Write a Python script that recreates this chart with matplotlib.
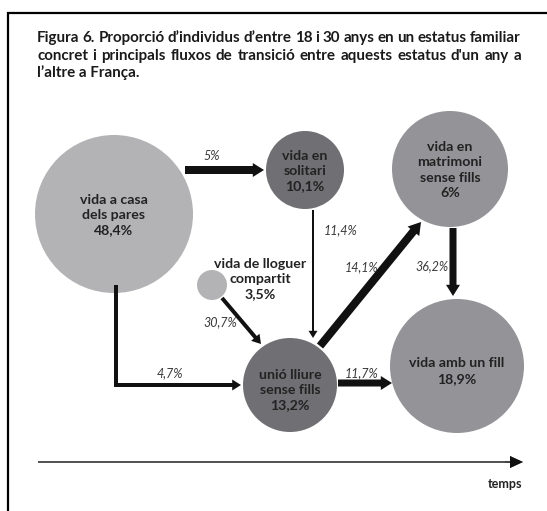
import matplotlib
matplotlib.use("Agg")
import matplotlib.pyplot as plt
from matplotlib.patches import Circle

plt.rcParams['font.family'] = ['Lato', 'DejaVu Sans']

# estatus familiars: etiqueta, percentatge
states = ["pares", "solitari", "matrimoni", "lloguer", "unio", "fill"]
labels = {
    "pares": "vida a casa\ndels pares",
    "solitari": "vida en\nsolitari",
    "matrimoni": "vida en\nmatrimoni\nsense fills",
    "lloguer": "vida de lloguer\ncompartit",
    "unio": "unió lliure\nsense fills",
    "fill": "vida amb un fill",
}
shares = {"pares": "48,4%", "solitari": "10,1%", "matrimoni": "6%",
          "lloguer": "3,5%", "unio": "13,2%", "fill": "18,9%"}

# fluxos: origen, desti, percentatge
flows = [
    ("pares", "solitari", "5%"),
    ("pares", "unio", "4,7%"),
    ("solitari", "unio", "11,4%"),
    ("lloguer", "unio", "30,7%"),
    ("unio", "matrimoni", "14,1%"),
    ("matrimoni", "fill", "36,2%"),
    ("unio", "fill", "11,7%"),
]

title_lines = [
    "Figura 6. Proporció d\u2019individus d\u2019entre 18 i 30 anys en un estatus familiar",
    "concret i principals fluxos de transició entre aquests estatus d'un any a",
    "l\u2019altre a França.",
]

# layout (pixels)
LIGHT, MID, DARK = "#b3b3b5", "#949498", "#707074"
node_pos = {"pares": (114, 214), "solitari": (305, 170), "matrimoni": (450, 169),
            "lloguer": (212, 285), "unio": (290, 385), "fill": (457, 366)}
node_r = {"pares": 79, "solitari": 39, "matrimoni": 58, "lloguer": 15,
          "unio": 47, "fill": 67}
node_col = {"pares": LIGHT, "solitari": DARK, "matrimoni": MID, "lloguer": LIGHT,
            "unio": DARK, "fill": MID}
text_pos = {"pares": (114, 215), "solitari": (305, 171), "matrimoni": (450, 170),
            "lloguer": (260, 279), "unio": (290, 390), "fill": (457, 371)}

# arrow paths: list of points, width px, head width, label pos
arrow_geo = {
    ("pares", "solitari"): ([(185, 170), (264, 170)], 8, 14, (212, 156)),
    ("pares", "unio"): ([(116, 287), (116, 385), (241, 385)], 4, 11, (170, 373)),
    ("solitari", "unio"): ([(313, 210), (313, 338)], 2, 9, (341, 230)),
    ("lloguer", "unio"): ([(222, 298), (261, 344)], 4, 11, (220, 322)),
    ("unio", "matrimoni"): ([(320, 346), (421, 222)], 8, 15, (362, 267)),
    ("matrimoni", "fill"): ([(453, 228), (453, 296)], 7, 14, (432, 266)),
    ("unio", "fill"): ([(338, 383), (392, 383)], 7, 14, (362, 373)),
}

fig = plt.figure(figsize=(5.47, 5.11), dpi=100)
ax = fig.add_axes([0, 0, 1, 1])
ax.set_xlim(0, 547)
ax.set_ylim(511, 0)
ax.axis("off")

# frame
ax.plot([8, 8, 547], [511, 13, 13], color="black", lw=1.6, solid_joinstyle="miter")

# justified title
renderer = fig.canvas.get_renderer()
x_left, x_right = 37, 521
for i, line in enumerate(title_lines):
    y = [42, 60, 77][i]
    kw = dict(fontsize=10.9, fontweight="bold", va="baseline", color="#1a1a1a")
    if i == len(title_lines) - 1:
        ax.text(x_left, y, line, ha="left", **kw)
        continue
    words = line.split(" ")
    arts = [ax.text(0, y, w, ha="left", **kw) for w in words]
    widths = [a.get_window_extent(renderer).width for a in arts]
    gap = (x_right - x_left - sum(widths)) / (len(words) - 1)
    x = x_left
    for a, w in zip(arts, widths):
        a.set_x(x)
        x += w + gap

for s in states:
    x, y = node_pos[s]
    ax.add_patch(Circle((x, y), node_r[s], color=node_col[s], lw=0, zorder=2))
    tx, ty = text_pos[s]
    ax.text(tx, ty, labels[s] + "\n" + shares[s], ha="center", va="center",
            fontsize=10.2, fontweight="bold", color="#222222",
            linespacing=1.32, zorder=4)

for src, dst, pct in flows:
    pts, w, hw, lp = arrow_geo[(src, dst)]
    for (x0, y0), (x1, y1) in zip(pts[:-2], pts[1:-1]):
        ax.plot([x0, x1], [y0, y1], color="#111111", lw=w * 0.72,
                solid_capstyle="projecting", zorder=3)
    (x0, y0), (x1, y1) = pts[-2], pts[-1]
    ax.arrow(x0, y0, x1 - x0, y1 - y0, width=w, head_width=hw,
             head_length=hw * 0.8, length_includes_head=True,
             color="#111111", lw=0, zorder=3)
    ax.text(lp[0], lp[1], pct, ha="center", va="center", fontsize=9,
            fontstyle="italic", color="#3a3a3a", zorder=4)

# time axis
ax.arrow(38, 462, 485, 0, width=2, head_width=12, head_length=13,
         length_includes_head=True, color="#555555", lw=0)
ax.arrow(505, 462, 18, 0, width=0.5, head_width=12, head_length=13,
         length_includes_head=True, color="#111111", lw=0)
ax.text(505, 484, "temps", ha="center", va="center", fontsize=9,
        fontweight="bold", color="#222222")

fig.savefig("out.png", dpi=100)
